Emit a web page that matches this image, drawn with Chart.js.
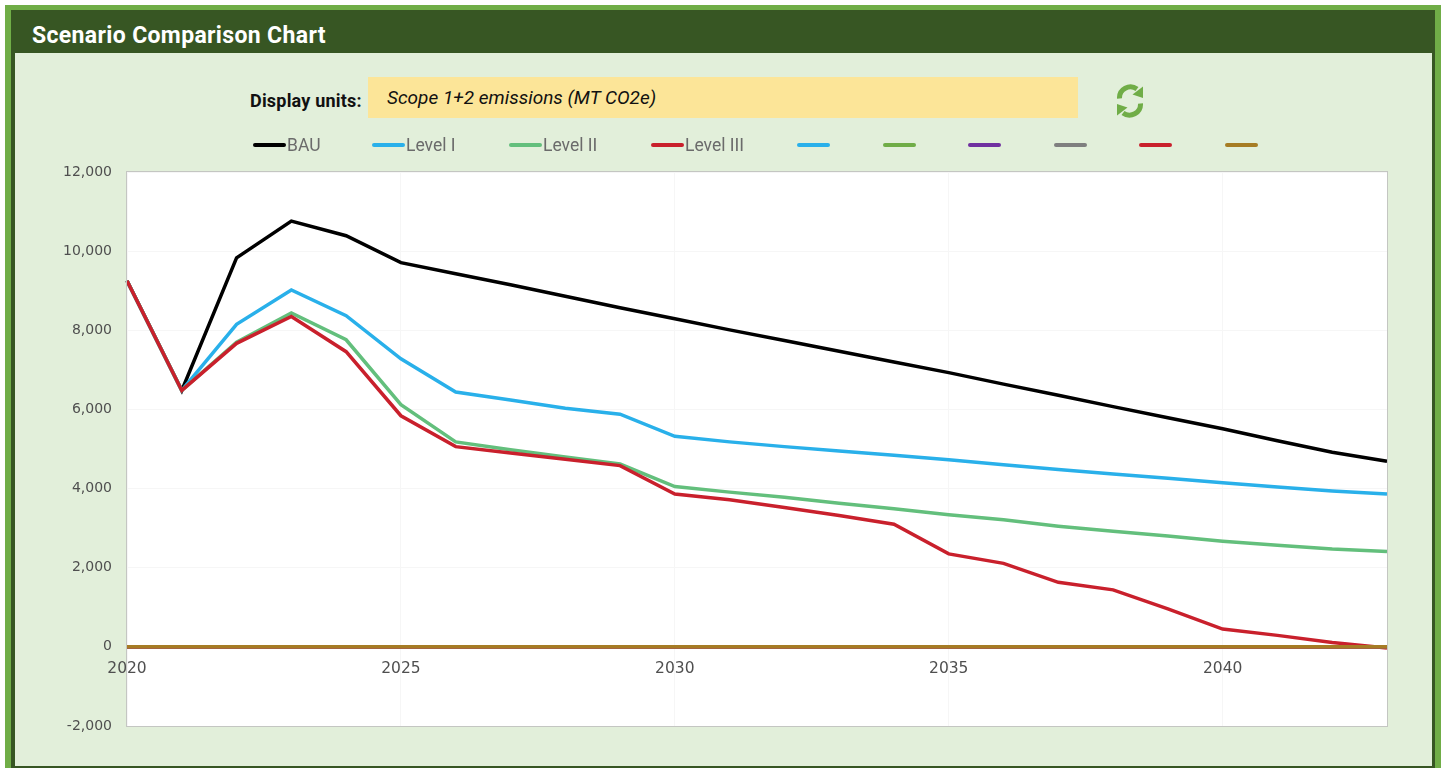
<!DOCTYPE html>
<html>
<head>
<meta charset="utf-8">
<title>Scenario Comparison Chart</title>
<script src="https://cdn.jsdelivr.net/npm/chart.js@4"></script>
<style>
  html, body { margin: 0; padding: 0; background: #fff; overflow: hidden; }
  body { width: 1443px; height: 768px; position: relative; font-family: Roboto, sans-serif; }
  .frame { position: absolute; left: 5px; top: 5px; width: 1436px; height: 763px; background: #70ad47; }
  .panel { position: absolute; left: 11px; top: 10px; width: 1424px; height: 762px; background: #375623; }
  .body { position: absolute; left: 15px; top: 53px; width: 1417px; height: 713px; background: #e2efda; }
  .title { position: absolute; left: 32px; top: 22px; color: #fff; font: bold 23px Roboto, sans-serif; letter-spacing: 0.35px; }
  .units { position: absolute; left: 250px; top: 90px; font: bold 18px Roboto, sans-serif; letter-spacing: 0.2px; color: #111; }
  .select { position: absolute; left: 368px; top: 77px; width: 710px; height: 41px; background: #fce598;
            font: italic 19px Roboto, sans-serif; line-height: 41px; padding-left: 19px; box-sizing: border-box; color: #111; }
  .refresh { position: absolute; left: 1114px; top: 83px; }
  canvas { position: absolute; left: 0; top: 0; }
  .key { position: absolute; top: 135px; height: 20px; font: 17.5px Roboto, sans-serif; color: #6b6b6b; line-height: 20px; white-space: nowrap; }
  .key i { position: absolute; left: 0; top: 8px; width: 33px; height: 3.5px; border-radius: 2px; }
  .key span { position: absolute; left: 34px; }
</style>
</head>
<body>
<div class="frame"></div>
<div class="panel"></div>
<div class="body"></div>
<div class="title">Scenario Comparison Chart</div>
<div class="units">Display units:</div>
<div class="select">Scope 1+2 emissions (MT CO2e)</div>
<svg class="refresh" width="32" height="36" viewBox="0 0 32 36">
  <g fill="none" stroke="#70ad47" stroke-width="5">
    <path d="M5.5 15.5 A11 11 0 0 1 23 6"/>
    <path d="M26.5 20.5 A11 11 0 0 1 9 30"/>
  </g>
  <path d="M29 3.5 L29 15 L18.5 11.5 Z" fill="#70ad47"/>
  <path d="M3 32.5 L3 21 L13.5 24.5 Z" fill="#70ad47"/>
</svg>
<canvas id="chart" width="1443" height="768"></canvas>
<div id="legend"></div>

<script>
const YEARS = [2020, 2021, 2022, 2023, 2024, 2025, 2026, 2027, 2028, 2029, 2030, 2031,
               2032, 2033, 2034, 2035, 2036, 2037, 2038, 2039, 2040, 2041, 2042, 2043];

const BAU = [9250, 6480, 9830, 10760, 10390, 9710, 9430, 9150, 8860, 8570, 8290, 8010,
             7740, 7470, 7200, 6930, 6640, 6360, 6070, 5790, 5510, 5210, 4920, 4690];
const LEVEL_1 = [9250, 6480, 8150, 9020, 8370, 7280, 6440, 6240, 6030, 5880, 5320, 5180,
                 5060, 4950, 4840, 4730, 4600, 4480, 4370, 4260, 4150, 4040, 3940, 3860];
const LEVEL_2 = [9250, 6480, 7700, 8440, 7760, 6120, 5180, 4980, 4800, 4620, 4050, 3910,
                 3780, 3630, 3490, 3340, 3210, 3050, 2920, 2800, 2670, 2570, 2470, 2410];
const LEVEL_3 = [9250, 6480, 7670, 8350, 7460, 5840, 5060, 4900, 4740, 4580, 3860, 3720,
                 3520, 3320, 3100, 2350, 2110, 1630, 1440, 960, 450, 290, 110, -30];
// unused scenario slots, all sitting on zero
const EMPTY = [0, 0, 0, 0, 0, 0, 0, 0, 0, 0, 0, 0, 0, 0, 0, 0, 0, 0, 0, 0, 0, 0, 0, 0];

const SERIES = [BAU, LEVEL_1, LEVEL_2, LEVEL_3, EMPTY, EMPTY, EMPTY, EMPTY, EMPTY, EMPTY];
const NAMES = ["BAU", "Level I", "Level II", "Level III", "", "", "", "", "", ""];
const COLORS = ["#000000", "#29b0ea", "#63bf7c", "#c9202c", "#29b0ea",
                "#70ad47", "#7030a0", "#7f7f7f", "#c9202c", "#a67c24"];
const LEGEND_X = [253, 372, 509, 651, 797, 883, 968, 1054, 1139, 1225];

// later series paint on top, so the brown one ends up over the others on the zero line
const datasets = SERIES.map((values, i) => ({
  label: NAMES[i],
  data: values,
  borderColor: COLORS[i],
  backgroundColor: COLORS[i],
  borderWidth: 3.5,
  pointRadius: 0,
  tension: 0,
  order: SERIES.length - i,
}));

const plotBackground = {
  id: "plotBackground",
  beforeDraw(chart) {
    const { ctx, chartArea: a } = chart;
    ctx.save();
    ctx.fillStyle = "#ffffff";
    ctx.fillRect(a.left, a.top, a.width, a.height);
    ctx.restore();
  },
  afterDatasetsDraw(chart) {
    const { ctx, chartArea: a } = chart;
    ctx.save();
    ctx.strokeStyle = "#c4c6c2";
    ctx.lineWidth = 1;
    ctx.strokeRect(a.left - 0.5, a.top - 0.5, a.width + 1, a.height + 1);
    ctx.restore();
  },
};

new Chart(document.getElementById("chart").getContext("2d"), {
  type: "line",
  data: { labels: YEARS, datasets: datasets },
  options: {
    responsive: false,
    animation: false,
    layout: { padding: { left: 7, right: 56, top: 172, bottom: 42 } },
    plugins: { legend: { display: false }, tooltip: { enabled: false } },
    scales: {
      x: {
        type: "category",
        position: { y: 0 },
        offset: false,
        border: { display: false },
        grid: {
          color: (c) => (c.index % 5 === 0 ? "#f6f6f6" : "rgba(0,0,0,0)"),
          tickLength: 6,
        },
        ticks: {
          autoSkip: false,
          maxRotation: 0,
          color: "#4f4f4f",
          font: { family: "DejaVu Sans", size: 15.5 },
          padding: 7,
          callback(value, index) {
            return index % 5 === 0 ? YEARS[index] : "";
          },
        },
      },
      y: {
        min: -2000,
        max: 12000,
        border: { display: false },
        grid: { color: "#f6f6f6", drawTicks: false },
        afterFit(scale) { scale.width = 120; },
        ticks: {
          stepSize: 2000,
          color: "#4f4f4f",
          padding: 15,
          font: { family: "DejaVu Sans", size: 14 },
          callback: (v) => v.toLocaleString("en-US"),
        },
      },
    },
  },
  plugins: [plotBackground],
});

// legend row, one entry per series
const legendBox = document.getElementById("legend");
NAMES.forEach((name, i) => {
  const item = document.createElement("div");
  item.className = "key";
  item.style.left = LEGEND_X[i] + "px";
  item.innerHTML = '<i style="background:' + COLORS[i] + '"></i><span>' + name + "</span>";
  legendBox.appendChild(item);
});
</script>
</body>
</html>
